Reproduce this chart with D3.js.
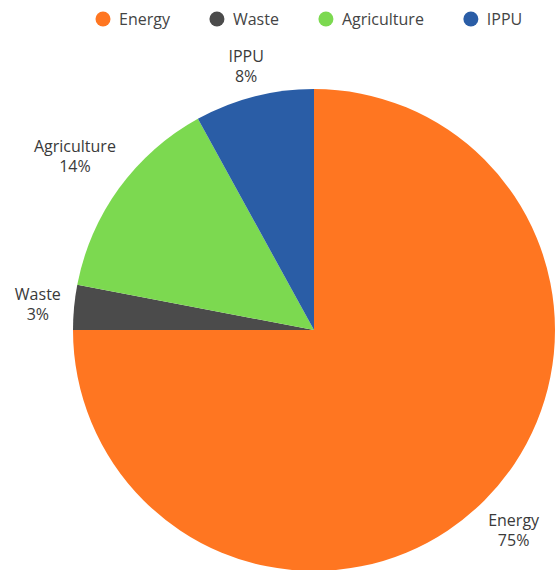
<!DOCTYPE html>
<html><head><meta charset="utf-8">
<script src="https://cdn.jsdelivr.net/npm/d3@7"></script>
<style>body{margin:0;background:#fff;overflow:hidden}text{font-family:"Open Sans",sans-serif}</style>
</head><body><svg id="c" width="555" height="570"></svg>
<script>
const categories = ["Energy", "Waste", "Agriculture", "IPPU"];
const values = [75, 3, 14, 8];
const colors = ["#FF7621", "#4B4B4B", "#7CD950", "#2A5DA6"];

const svg = d3.select("#c");
const cx = 314, cy = 330, R = 241;

const color = d3.scaleOrdinal().domain(categories).range(colors);
const data = categories.map((c, i) => ({name: c, value: values[i]}));
const pie = d3.pie().value(d => d.value).sort(null);
const arc = d3.arc().innerRadius(0).outerRadius(R);
const arcs = pie(data);

const g = svg.append("g").attr("transform", `translate(${cx},${cy})`);
g.selectAll("path").data(arcs).join("path")
  .attr("d", arc).attr("fill", d => color(d.data.name));

// labels outside
const fs = 16, lh = 20, h = 32, off = 12;
const lab = g.selectAll("g.lab").data(arcs).join("g").attr("class", "lab");
lab.each(function(d) {
  const a = (d.startAngle + d.endAngle) / 2;
  const s = Math.sin(a), c = -Math.cos(a);
  const sel = d3.select(this);
  const t1 = sel.append("text").text(d.data.name).attr("font-size", fs).attr("fill", "#3a3a3a").attr("text-anchor", "middle");
  const t2 = sel.append("text").text(d.data.value + "%").attr("font-size", fs).attr("fill", "#3a3a3a").attr("text-anchor", "middle");
  const w = Math.max(t1.node().getComputedTextLength(), t2.node().getComputedTextLength());
  const dist = R + off + Math.abs(s) * w / 2 + Math.abs(c) * h / 2;
  const bx = s * dist, by = c * dist;
  t1.attr("x", bx).attr("y", by - 4);
  t2.attr("x", bx).attr("y", by - 4 + lh);
});

// legend
const legend = svg.append("g").attr("transform", "translate(0,19)");
let x = 103;
categories.forEach((c, i) => {
  const it = legend.append("g");
  it.append("circle").attr("cx", x).attr("cy", 0).attr("r", 7.5).attr("fill", color(c));
  const t = it.append("text").attr("x", x + 16).attr("y", 5.5).attr("font-size", 16).attr("fill", "#444").text(c);
  x += 16 + t.node().getComputedTextLength() + 47;
});
</script></body></html>
